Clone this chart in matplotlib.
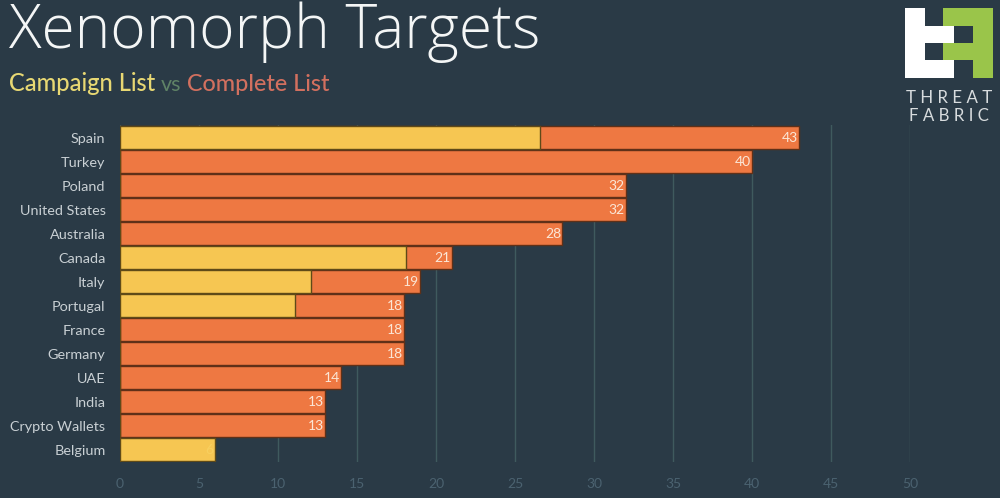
import matplotlib
matplotlib.use("Agg")
import matplotlib.pyplot as plt
from matplotlib.patches import Polygon

countries = ['Spain', 'Turkey', 'Poland', 'United States', 'Australia', 'Canada', 'Italy',
             'Portugal', 'France', 'Germany', 'UAE', 'India', 'Crypto Wallets', 'Belgium']
complete_list = [43, 40, 32, 32, 28, 21, 19, 18, 18, 18, 14, 13, 13, 0]
campaign_list = [26.6, 0, 0, 0, 0, 18.1, 12.1, 11.1, 0, 0, 0, 0, 0, 6]
bar_labels = ['43', '40', '32', '32', '28', '21', '19', '18', '18', '18', '14', '13', '13', '6']
x_ticks = [0, 5, 10, 15, 20, 25, 30, 35, 40, 45, 50]

BG = '#2a3a46'
ORANGE = '#ee7842'
YELLOW = '#f6c652'
FONT = 'Lato'

W, H = 1000, 498
fig = plt.figure(figsize=(W / 100, H / 100), dpi=100, facecolor=BG)
ax = fig.add_axes([120 / W, 1 - 461.5 / H, 790 / W, 336 / H], facecolor=BG)

rows = list(range(len(countries)))
ax.barh(rows, complete_list, height=0.96, color=ORANGE, edgecolor='#5f3018', linewidth=1, zorder=2)
ax.barh(rows, campaign_list, height=0.96, color=YELLOW, edgecolor='#5f4a18', linewidth=1, zorder=3)

for i, lab in enumerate(bar_labels):
    end = max(complete_list[i], campaign_list[i])
    ax.text(end - 0.08, i, lab, ha='right', va='center', color='#fbe6d6' if complete_list[i] else '#f8d060',
            fontsize=10, family=FONT, zorder=4)

ax.set_xlim(0, 50)
ax.set_ylim(13.5, -0.5)
ax.set_xticks(x_ticks)
ax.set_yticks(rows)
ax.set_yticklabels(countries, fontsize=10.4, color='#c9d0d4', family=FONT)
ax.tick_params(axis='y', length=0, pad=10.5)
ax.tick_params(axis='x', length=0, pad=12, labelsize=10, labelcolor='#4b6270')
for t in ax.get_xticklabels():
    t.set_family(FONT)
ax.grid(axis='x', color='#3f5a5e', linewidth=1, zorder=1)
ax.set_axisbelow(True)
for s in ax.spines.values():
    s.set_visible(False)

# header
fig.text(9 / W, 1 - 48 / H, 'Xenomorph Targets', fontsize=43.6, color='#f4f6f6', family='Open Sans', weight='light')
fig.text(9 / W, 1 - 91 / H, 'Campaign List', fontsize=17, color='#e8d873', family=FONT, weight='medium')
fig.text(161 / W, 1 - 91 / H, 'vs', fontsize=15.5, color='#5f8266', family=FONT)
fig.text(187 / W, 1 - 91 / H, 'Complete List', fontsize=16.8, color='#d2705f', family=FONT, weight='medium')

# logo
def px(pts):
    return [(x / W, 1 - y / H) for x, y in pts]

white_shape = [(905, 8), (925, 8), (925, 26), (954, 26), (954, 43), (925, 43), (925, 60),
               (954, 60), (954, 78), (905, 78)]
green_shape = [(943, 8), (993, 8), (993, 78), (973, 78), (973, 60), (943, 60), (943, 43),
               (973, 43), (973, 26), (943, 26)]
fig.add_artist(Polygon(px(white_shape), closed=True, fc='#ffffff', ec='none'))
fig.add_artist(Polygon(px(green_shape), closed=True, fc='#9ac54a', ec='none'))
fig.text(949 / W, 1 - 103 / H, 'T H R E A T', fontsize=12.2, color='#d8dcde', family=FONT, ha='center')
fig.text(949 / W, 1 - 121 / H, 'F A B R I C', fontsize=12.2, color='#d8dcde', family=FONT, ha='center')

fig.savefig('out.png', dpi=100, facecolor=BG)
